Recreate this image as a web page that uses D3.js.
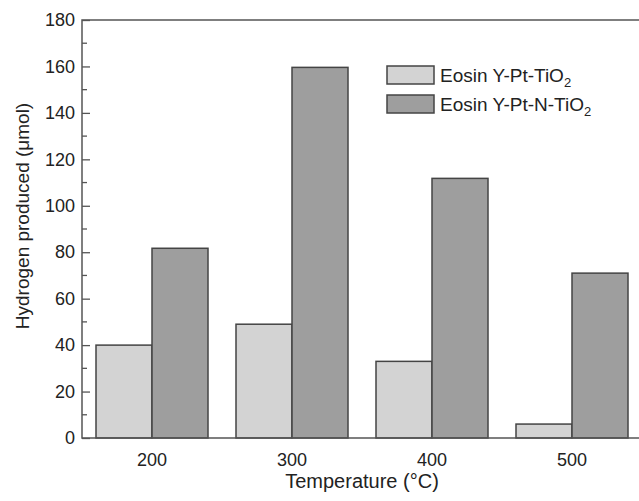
<!DOCTYPE html>
<html>
<head>
<meta charset="utf-8">
<script src="https://cdn.jsdelivr.net/npm/d3@7"></script>
<style>
  body { margin: 0; background: #fff; }
  text { font-family: "Liberation Sans", Arial, Helvetica, sans-serif; fill: #222; }
</style>
</head>
<body>
<script>
// data
var temperatures = ["200", "300", "400", "500"];
var seriesNames = ["Eosin Y-Pt-TiO", "Eosin Y-Pt-N-TiO"];
var ptTiO2 = [40, 49, 33, 6];
var ptNTiO2 = [81.7, 159.6, 111.8, 71];
var yTicks = [0, 20, 40, 60, 80, 100, 120, 140, 160, 180];

function draw() {
    var W = 639, H = 501;
    var pLeft = 82, pTop = 20, pRight = 642, pBottom = 438;
    var fills = ["#d3d3d3", "#9e9e9e"];
    var edge = "#444";

    var svg = d3.select("body").append("svg")
        .attr("width", W)
        .attr("height", H);

    var x = d3.scaleBand()
        .domain(temperatures)
        .range([pLeft, pRight])
        .paddingInner(0.2)
        .paddingOuter(0.1);

    var xs = d3.scaleBand()
        .domain([0, 1])
        .range([0, x.bandwidth()]);

    var y = d3.scaleLinear()
        .domain([0, 180])
        .range([pBottom, pTop]);

    var rows = temperatures.map(function(t, i) {
        return { t: t, vals: [ptTiO2[i], ptNTiO2[i]] };
    });

    // bars
    var groups = svg.selectAll("g.grp")
        .data(rows)
        .enter().append("g")
        .attr("class", "grp")
        .attr("transform", function(d) { return "translate(" + x(d.t) + ",0)"; });

    groups.selectAll("rect")
        .data(function(d) { return d.vals; })
        .enter().append("rect")
        .attr("x", function(d, i) { return xs(i); })
        .attr("y", function(d) { return y(d); })
        .attr("width", xs.bandwidth())
        .attr("height", function(d) { return y(0) - y(d); })
        .attr("fill", function(d, i) { return fills[i]; })
        .attr("stroke", edge)
        .attr("stroke-width", 1.5);

    // frame
    svg.append("rect")
        .attr("x", pLeft)
        .attr("y", pTop)
        .attr("width", pRight - pLeft)
        .attr("height", pBottom - pTop)
        .attr("fill", "none")
        .attr("stroke", "#555")
        .attr("stroke-width", 1.5);

    // y axis, ticks pointing inwards
    var yAxis = d3.axisLeft(y)
        .tickValues(yTicks)
        .tickSize(-8)
        .tickPadding(7);

    var gy = svg.append("g")
        .attr("transform", "translate(" + pLeft + ",0)")
        .call(yAxis);
    gy.select(".domain").remove();
    gy.selectAll(".tick line").attr("stroke", "#555").attr("stroke-width", 1.3);
    gy.selectAll(".tick text")
        .attr("font-size", 18)
        .attr("fill", "#222")
        .style("font-family", "'Liberation Sans', Arial, sans-serif");

    // minor ticks
    var minor = d3.range(10, 180, 20);
    svg.append("g").selectAll("line")
        .data(minor)
        .enter().append("line")
        .attr("x1", pLeft)
        .attr("x2", pLeft + 5)
        .attr("y1", function(d) { return y(d); })
        .attr("y2", function(d) { return y(d); })
        .attr("stroke", "#555")
        .attr("stroke-width", 1.3);

    // x axis labels
    var xAxis = d3.axisBottom(x).tickSize(0).tickPadding(15);
    var gx = svg.append("g")
        .attr("transform", "translate(0," + pBottom + ")")
        .call(xAxis);
    gx.select(".domain").remove();
    gx.selectAll(".tick text")
        .attr("font-size", 18)
        .attr("fill", "#222")
        .style("font-family", "'Liberation Sans', Arial, sans-serif");

    // axis titles
    svg.append("text")
        .attr("x", 362)
        .attr("y", 488)
        .attr("text-anchor", "middle")
        .attr("font-size", 20)
        .text("Temperature (\u00B0C)");

    svg.append("text")
        .attr("transform", "translate(29,216) rotate(-90)")
        .attr("text-anchor", "middle")
        .attr("font-size", 19)
        .text("Hydrogen produced (\u03BCmol)");

    // legend
    var legend = svg.append("g")
        .attr("transform", "translate(387,66)");

    var item = legend.selectAll("g")
        .data(seriesNames)
        .enter().append("g")
        .attr("transform", function(d, i) { return "translate(0," + (i * 29) + ")"; });

    item.append("rect")
        .attr("width", 47)
        .attr("height", 18)
        .attr("fill", function(d, i) { return fills[i]; })
        .attr("stroke", edge)
        .attr("stroke-width", 1.5);

    var lt = item.append("text")
        .attr("x", 53)
        .attr("y", 16)
        .attr("font-size", 19);
    lt.append("tspan").text(function(d) { return d; });
    lt.append("tspan")
        .attr("dy", 5)
        .attr("font-size", 13)
        .text("2");
}

draw();
</script>
</body>
</html>
